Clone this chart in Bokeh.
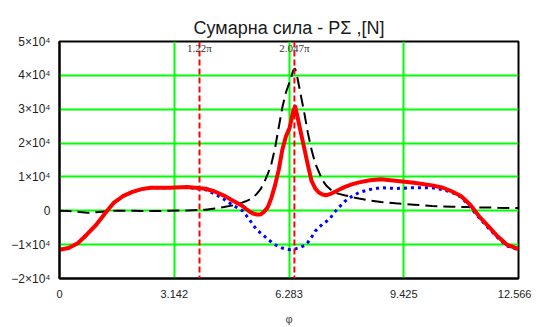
import numpy as np
from bokeh.plotting import figure
from bokeh.models import FixedTicker, CustomJSTickFormatter, Span, Label, Range1d
from bokeh.embed import file_html
from bokeh.resources import INLINE

# data (values in thousands of N)
x_vals = [0, 0.25, 0.5, 0.75, 1.0, 1.25, 1.5, 1.75, 2.0, 2.25, 2.5, 3.0, 3.5,
          4.0, 4.25, 4.5, 4.75, 5.0, 5.1, 5.2, 5.3, 5.4, 5.5, 5.6, 5.7, 5.8, 5.9,
          6.0, 6.1, 6.2, 6.3, 6.4, 6.45, 6.5, 6.6, 6.7, 6.8, 6.9, 7.0, 7.1, 7.2,
          7.3, 7.4, 7.5, 7.65, 7.8, 8.0, 8.2, 8.5, 8.8, 9.2, 9.7, 10.2, 10.5, 10.75,
          11.0, 11.25, 11.5, 11.75, 12.0, 12.25, 12.566]
total_k = [-11.5, -11.0, -9.6, -7.0, -4.2, -0.7, 2.5, 4.4, 5.6, 6.4, 6.8, 6.8, 7.0,
           6.5, 5.7, 4.5, 3.0, 1.5, 0.6, -0.2, -0.8, -1.1, -1.1, -0.3, 1.0, 3.8, 7.5,
           12.0, 18.0, 22.0, 24.5, 29.5, 30.8, 28.5, 23.5, 18.5, 13.5, 8.8, 6.6, 5.4, 4.8,
           4.6, 4.9, 5.4, 6.2, 7.0, 7.8, 8.4, 9.0, 9.3, 8.9, 8.3, 7.5, 6.8, 5.7,
           4.3, 1.7, -1.8, -4.7, -7.6, -10.0, -11.3]
comp1_k = [-11.5, -11.0, -9.6, -7.0, -4.2, -0.7, 2.5, 4.4, 5.6, 6.4, 6.8, 6.8, 6.9,
           6.2, 5.0, 3.4, 1.6, 0.1, -1.2, -2.6, -4.2, -5.6, -6.5, -7.4, -8.4, -9.2, -10.0,
           -10.6, -11.0, -11.3, -11.5, -11.4, -11.3, -11.1, -10.8, -10.3, -9.3, -7.8, -6.0, -5.0, -3.9,
           -3.2, -2.4, -0.8, 1.0, 2.7, 4.2, 5.4, 6.3, 6.8, 6.6, 6.8, 6.8, 6.2, 5.4,
           4.0, 1.0, -2.2, -5.2, -8.0, -10.4, -11.5]
comp2_k = [0.0, -0.1, -0.3, -0.6, -0.4, -0.2, 0.0, 0.0, 0.0, -0.1, -0.1, 0.0, 0.1,
           0.3, 0.7, 1.1, 1.6, 2.4, 2.8, 3.3, 3.9, 5.0, 6.3, 8.3, 10.8, 13.8, 18.5,
           24.5, 30.5, 35.0, 38.0, 41.5, 42.0, 40.0, 34.5, 29.0, 23.0, 18.0, 14.0, 11.5, 9.0,
           7.5, 6.5, 5.5, 5.0, 4.6, 4.1, 3.6, 3.0, 2.6, 2.2, 1.8, 1.4, 1.3, 1.2,
           1.1, 1.1, 1.0, 1.0, 0.9, 0.85, 0.8]
x_ticks = [0, 3.142, 6.283, 9.425, 12.566]
y_ticks = [-20000, -10000, 0, 10000, 20000, 30000, 40000, 50000]
marker_x = [1.22 * np.pi, 2.047 * np.pi]
marker_labels = ["1.22π", "2.047π"]

total = [v * 1000 for v in total_k]
comp1 = [v * 1000 for v in comp1_k]
comp2 = [v * 1000 for v in comp2_k]

p = figure(width=531, height=327, output_backend="svg", toolbar_location=None,
           x_range=Range1d(0, 12.566), y_range=Range1d(-20000, 50000),
           min_border_left=59, min_border_right=13, min_border_top=41,
           min_border_bottom=38)

p.title.text = "Сумарна сила - PΣ ,[N]"
p.title.align = "center"
p.title.text_font = "Liberation Sans"
p.title.text_font_size = "18px"
p.title.text_font_style = "normal"
p.title.text_color = "#1a1a1a"
p.title.offset = 0
p.title.standoff = 8

p.background_fill_color = "white"
p.border_fill_color = "white"
p.outline_line_color = "black"
p.outline_line_width = 2

# grids
p.xgrid.ticker = FixedTicker(ticks=x_ticks[1:-1])
p.ygrid.ticker = FixedTicker(ticks=y_ticks[1:-1])
for g in (p.xgrid, p.ygrid):
    g.grid_line_color = "#00ff00"
    g.grid_line_width = 2
    g.grid_line_alpha = 1.0

# axes
p.xaxis.ticker = FixedTicker(ticks=x_ticks)
p.yaxis.ticker = FixedTicker(ticks=y_ticks)
p.xaxis.major_label_overrides = {t: ("%g" % t) for t in x_ticks}
p.yaxis.formatter = CustomJSTickFormatter(code="""
if (Math.abs(tick) < 1e-9) return "0";
const m = Math.round(tick / 10000);
return (m < 0 ? "\u2212" : "") + Math.abs(m) + "\u00d710\u2074";
""")
for ax in (p.xaxis, p.yaxis):
    ax.axis_line_color = "black"
    ax.axis_line_width = 2
    ax.major_tick_line_color = None
    ax.minor_tick_line_color = None
    ax.major_label_text_font = "Liberation Sans"
    ax.major_label_text_color = "#222222"
p.xaxis.major_label_text_font_size = "11px"
p.yaxis.major_label_text_font_size = "12px"
p.xaxis.major_label_standoff = 5
p.yaxis.major_label_standoff = 3
p.xaxis.axis_label = "φ"
p.xaxis.axis_label_text_font = "Liberation Sans"
p.xaxis.axis_label_text_font_size = "11px"
p.xaxis.axis_label_text_font_style = "normal"
p.xaxis.axis_label_standoff = 12

# series
p.line(x_vals, comp2, line_color="black", line_width=2, line_dash="12 6")
p.line(x_vals, comp1, line_color="#0000ff", line_width=3, line_dash="3 4")
p.line(x_vals, total, line_color="#ff0000", line_width=4, line_join="round")

# markers
for mx, ml in zip(marker_x, marker_labels):
    p.add_layout(Span(location=mx, dimension="height", line_color="#ff0000",
                      line_width=2, line_dash="6 3"))
    p.add_layout(Label(x=mx, y=46200, text=ml, text_align="center",
                       text_baseline="bottom", text_font="Liberation Serif",
                       text_font_size="11px", text_color="#333333"))

open("out.html", "w").write(file_html(p, INLINE))
